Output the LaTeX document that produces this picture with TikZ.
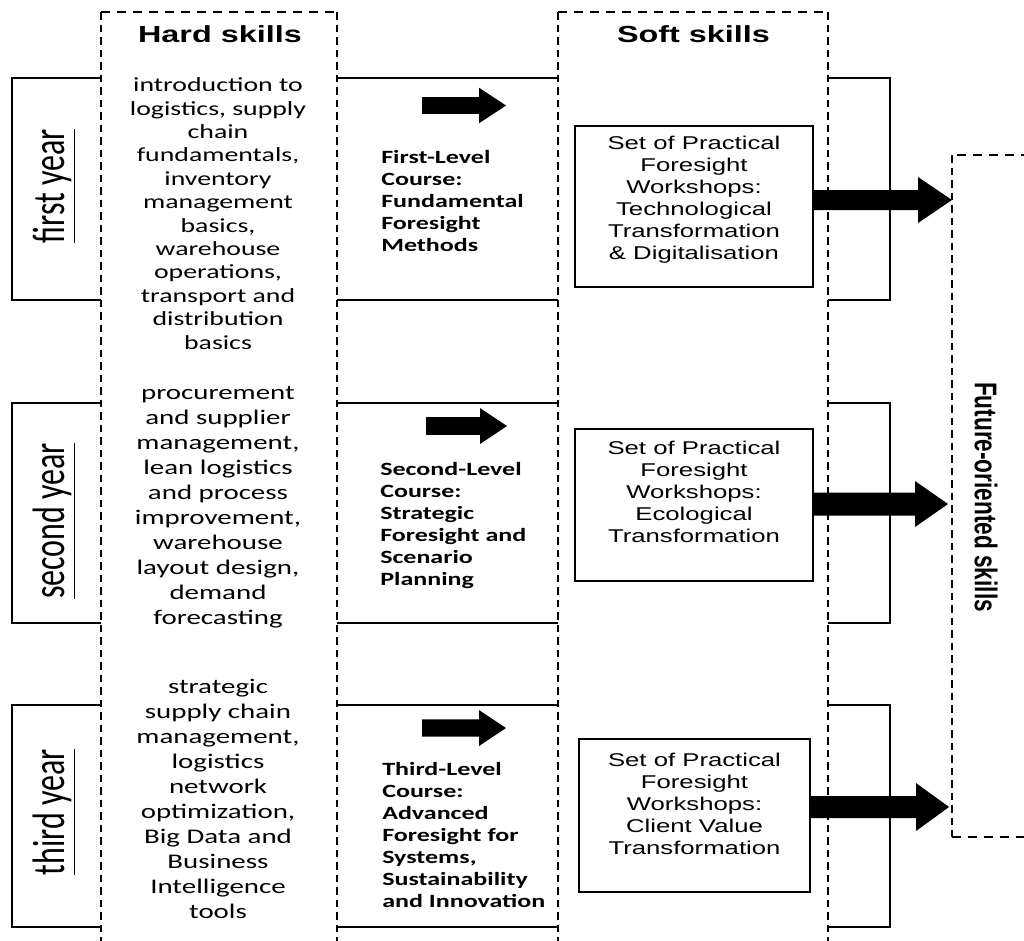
\documentclass[tikz,border=0pt]{standalone}
\usepackage{fontspec}
\setmainfont{Carlito}
\newfontfamily\arialf{Liberation Sans}
\newfontfamily\calf{Carlito}
\usetikzlibrary{calc}
\newcommand\blockarr[6]{% start, tip, shaft half, head half, head length, (unused)
  \fill[black] ($(#1)+(0,-#3)$) -- ($(#2)+(-#5,-#3)$) -- ($(#2)+(-#5,-#4)$) -- (#2)
     -- ($(#2)+(-#5,#4)$) -- ($(#2)+(-#5,#3)$) -- ($(#1)+(0,#3)$) -- cycle;}
\begin{document}
\begin{tikzpicture}[x=1pt,y=-1pt,
  solidln/.style={line width=2pt},
  vdash/.style={line width=2.6pt, dash pattern=on 7.5pt off 5pt},
  hdash/.style={line width=2.2pt, dash pattern=on 9pt off 7pt},
  hardtxt/.style={xscale=1.39, align=center, inner sep=0pt, font=\calf\fontsize{20}{23.4}\selectfont},
  hardtxtb/.style={hardtxt, font=\calf\fontsize{20.8}{25}\selectfont},
  coursetxt/.style={xscale=1.39, align=left, inner sep=0pt, anchor=west, font=\calf\bfseries\fontsize{18.7}{22}\selectfont},
  softtxt/.style={xscale=1.39, align=center, inner sep=0pt, font=\arialf\fontsize{18.5}{22}\selectfont},
  softbox/.style={draw, line width=2pt, rectangle, inner sep=0pt},
  header/.style={xscale=1.39, inner sep=0pt, font=\arialf\bfseries\fontsize{23.3}{28}\selectfont},
  yeartxt/.style={rotate=90, yscale=1.42, inner sep=0pt, font=\calf\fontsize{32}{36}\selectfont},
  futtxt/.style={rotate=-90, yscale=1.39, inner sep=0pt, font=\arialf\bfseries\fontsize{22.6}{27}\selectfont}
]
\useasboundingbox (0,0) rectangle (1024,940);
\clip (0,0) rectangle (1024,940);
\fill[white] (0,0) rectangle (1024,940);

% columns (dashed, open at the bottom)
\draw[hdash] (101,12) -- (337,12);
\draw[vdash] (101,12) -- (101,950);
\draw[vdash] (337,12) -- (337,950);
\draw[hdash] (558,12) -- (828,12);
\draw[vdash] (558,12) -- (558,950);
\draw[vdash] (828,12) -- (828,950);
% future box
\draw[hdash] (1030,155) -- (952,155);
\draw[vdash] (952,155) -- (952,837);
\draw[hdash] (952,837) -- (1030,837);

\node[header] (hh) at (220,34) {Hard skills};
\node[header] (sh) at (693.5,34) {Soft skills};

% year brackets and row boxes
\foreach \t/\b in {78/300, 403/623, 705/927}{
  \draw[solidln] (101,\t) -| (12,\b) -- (101,\b);
  \draw[solidln] (337,\t) -- (558,\t);
  \draw[solidln] (337,\b) -- (558,\b);
  \draw[solidln] (828,\t) -| (890,\b) -- (828,\b);
}

\node[yeartxt] (y1) at (54,186) {\underline{first year}};
\node[yeartxt] (y2) at (54,521) {\underline{second year}};
\node[yeartxt] (y3) at (54,812) {\underline{third year}};

\node[hardtxt] (h1) at (218,213.5) {introduction to\\logistics, supply\\chain\\fundamentals,\\inventory\\management\\basics,\\warehouse\\operations,\\transport and\\distribution\\basics};
\node[hardtxtb] (h2) at (218,507.5) {procurement\\and supplier\\management,\\lean logistics\\and process\\improvement,\\warehouse\\layout design,\\demand\\forecasting};
\node[hardtxtb] (h3) at (218,799) {strategic\\supply chain\\management,\\logistics\\network\\optimization,\\Big Data and\\Business\\Intelligence\\tools};

\node[coursetxt] (c1) at (381,201) {First-Level\\Course:\\Fundamental\\Foresight\\Methods};
\node[coursetxt] (c2) at (380,526) {Second-Level\\Course:\\Strategic\\Foresight and\\Scenario\\Planning};
\node[coursetxt] (c3) at (382,835) {Third-Level\\Course:\\Advanced\\Foresight for\\Systems,\\Sustainability\\and Innovation};

% small arrows
\coordinate (a1s) at (422,105.5); \coordinate (a1t) at (506,105.5);
\coordinate (a2s) at (426,426);   \coordinate (a2t) at (507,426);
\coordinate (a3s) at (422,728);   \coordinate (a3t) at (506,728);
\blockarr{a1s}{a1t}{8.3}{17.8}{27}{}
\blockarr{a2s}{a2t}{8.8}{18}{27}{}
\blockarr{a3s}{a3t}{8.7}{18}{27}{}

% soft skills boxes
\node[softbox, minimum width=238pt, minimum height=161pt] (s1) at (694,206.5) {};
\node[softbox, minimum width=238pt, minimum height=152pt] (s2) at (694,505) {};
\node[softbox, minimum width=231pt, minimum height=153pt] (s3) at (694.5,815.5) {};
\node[softtxt] (st1) at (694,200) {Set of Practical\\Foresight\\Workshops:\\Technological\\Transformation\\\& Digitalisation};
\node[softtxt] (st2) at (694,492) {Set of Practical\\Foresight\\Workshops:\\Ecological\\Transformation};
\node[softtxt] (st3) at (694.5,804) {Set of Practical\\Foresight\\Workshops:\\Client Value\\Transformation};

% future-oriented skills
\node[futtxt] (fut) at (986,497) {Future-oriented skills};
\coordinate (f1) at (952,200);
\coordinate (f2) at (948,504);
\coordinate (f3) at (949,807);
\coordinate (b1) at (s1.east |- f1);
\coordinate (b2) at (s2.east |- f2);
\coordinate (b3) at (s3.east |- f3);
\blockarr{b1}{f1}{10}{23}{34}{}
\blockarr{b2}{f2}{11.5}{23}{33}{}
\blockarr{b3}{f3}{11}{24}{33}{}
\end{tikzpicture}
\end{document}
